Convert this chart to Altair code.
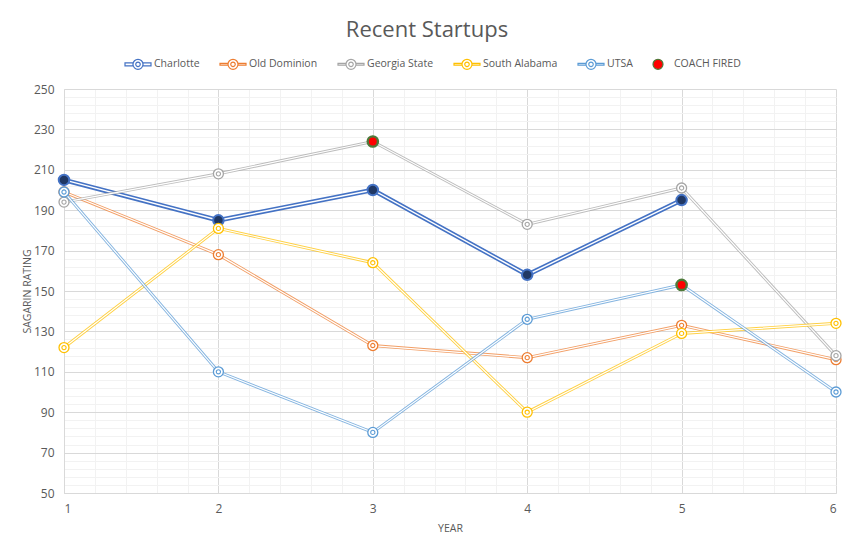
import altair as alt
import pandas as pd

# ---- data ----
years = [1, 2, 3, 4, 5, 6]
series_names = ["Charlotte", "Old Dominion", "Georgia State", "South Alabama", "UTSA"]
charlotte = [205, 185, 200, 158, 195, None]
old_dominion = [199, 168, 123, 117, 133, 116]
georgia_state = [194, 208, 224, 183, 201, 118]
south_alabama = [122, 181, 164, 90, 129, 134]
utsa = [199, 110, 80, 136, 153, 100]
coach_fired_years = [3, 5]
coach_fired_ratings = [224, 153]

series_colors = ["#4472C4", "#ED7D31", "#A5A5A5", "#FFC000", "#5B9BD5"]
y_ticks = list(range(50, 251, 4))
x_ticks = [round(1 + 0.2 * i, 1) for i in range(26)]

rows = []
for name, vals in zip(series_names, [charlotte, old_dominion, georgia_state, south_alabama, utsa]):
    for yr, v in zip(years, vals):
        if v is not None:
            rows.append({"Series": name, "Year": yr, "Rating": v})
df = pd.DataFrame(rows)
fired = pd.DataFrame({"Year": coach_fired_years, "Rating": coach_fired_ratings})

FONT = "Open Sans"
TXT = "#595959"

x_enc = alt.X(
    "Year:Q",
    scale=alt.Scale(domain=[1, 6], nice=False, zero=False),
    axis=alt.Axis(
        values=x_ticks,
        labelExpr="datum.value % 1 === 0 ? format(datum.value, 'd') : ''",
        labelOverlap=False,
        gridColor={"condition": {"test": "datum.value % 1 === 0", "value": "#D9D9D9"}, "value": "#F2F2F2"},
        ticks=False,
        domainColor="#D9D9D9",
        labelColor=TXT,
        labelFontSize=12,
        labelPadding=10,
        title="YEAR",
        titleFontSize=10.5,
        titleFontWeight="normal",
        titleColor=TXT,
        titlePadding=9,
    ),
)
y_enc = alt.Y(
    "Rating:Q",
    scale=alt.Scale(domain=[50, 250], nice=False, zero=False),
    axis=alt.Axis(
        values=y_ticks,
        labelExpr="datum.value % 20 === 10 ? format(datum.value, 'd') : ''",
        labelOverlap=False,
        gridColor={"condition": {"test": "datum.value % 20 === 10", "value": "#D9D9D9"}, "value": "#F2F2F2"},
        ticks=False,
        domainColor="#D9D9D9",
        labelColor=TXT,
        labelFontSize=12,
        labelPadding=10,
        title="SAGARIN RATING",
        titleFontSize=10.5,
        titleFontWeight="normal",
        titleColor=TXT,
        titlePadding=1,
    ),
)

layers = []
for i, (name, color) in enumerate(zip(series_names, series_colors)):
    base = alt.Chart(df).transform_filter(alt.datum.Series == name).encode(x=x_enc, y=y_enc)
    if name == "Charlotte":
        layers.append(base.mark_line(color=color, strokeWidth=4.6))
        layers.append(base.mark_line(color="white", strokeWidth=1.4))
        layers.append(base.mark_point(filled=True, fill="#203864", stroke=color, strokeWidth=2, size=110, opacity=1))
    else:
        layers.append(base.mark_line(color=color, strokeWidth=3.0, opacity=0.75))
        layers.append(base.mark_line(color="white", strokeWidth=1.2))
        layers.append(base.mark_point(filled=True, fill="white", stroke=color, strokeWidth=1.3, size=100, opacity=1))
        layers.append(base.mark_point(filled=True, fill="white", stroke=color, strokeWidth=1.1, size=18, opacity=1))

layers.append(
    alt.Chart(fired).mark_point(filled=True, fill="#FF0000", stroke="#4E7A3A", strokeWidth=2.4, size=105, opacity=1)
    .encode(x=x_enc, y=y_enc)
)

# ---- legend (symbols built from shapes) ----
circ = "M1,0A1,1,0,1,1,-1,0A1,1,0,1,1,1,0Z"
inner = "M0.45,0A0.45,0.45,0,1,1,-0.45,0A0.45,0.45,0,1,1,0.45,0Z"
def line_sym(h):
    return f"M-2.6,-{h}H-1V{h}H-2.6Z M1,-{h}H2.6V{h}H1Z " + circ + " " + inner

legend_names = series_names + ["COACH FIRED"]
stroke_range = series_colors + ["#4E7A3A"]
fill_range = ["#FFFFFF"] * 5 + ["#FF0000"]
shape_range = [line_sym(0.3), line_sym(0.17), line_sym(0.17), line_sym(0.17), line_sym(0.17), "circle"]

leg = alt.Legend(
    title=None,
    orient="none",
    legendX=68,
    legendY=-31,
    direction="horizontal",
    columnPadding=17,
    labelOffset=10,
    symbolSize=100,
    symbolStrokeWidth=1.2,
    labelFont=FONT,
    labelFontSize=10.5,
    labelColor=TXT,
)
legend_layer = (
    alt.Chart(df)
    .transform_filter("false")
    .mark_point(filled=True, opacity=1)
    .encode(
        x=x_enc,
        y=y_enc,
        stroke=alt.Stroke("Series:N", scale=alt.Scale(domain=legend_names, range=stroke_range), legend=leg),
        fill=alt.Fill("Series:N", scale=alt.Scale(domain=legend_names, range=fill_range), legend=leg),
        shape=alt.Shape("Series:N", scale=alt.Scale(domain=legend_names, range=shape_range), legend=leg),
    )
)

chart = (
    alt.layer(*layers, legend_layer)
    .properties(
        width=772,
        height=404,
        autosize=alt.AutoSizeParams(type="none"),
        padding={"left": 56, "top": 81, "right": 10, "bottom": 52},
        title=alt.TitleParams(
            "Recent Startups",
            font=FONT,
            fontSize=22,
            fontWeight="normal",
            color=TXT,
            anchor="middle",
            dx=-23,
            offset=16,
        ),
    )
    .configure(font=FONT)
    .configure_view(strokeWidth=0)
)

chart.save("out.html", embed_options={"renderer": "svg", "actions": False})
